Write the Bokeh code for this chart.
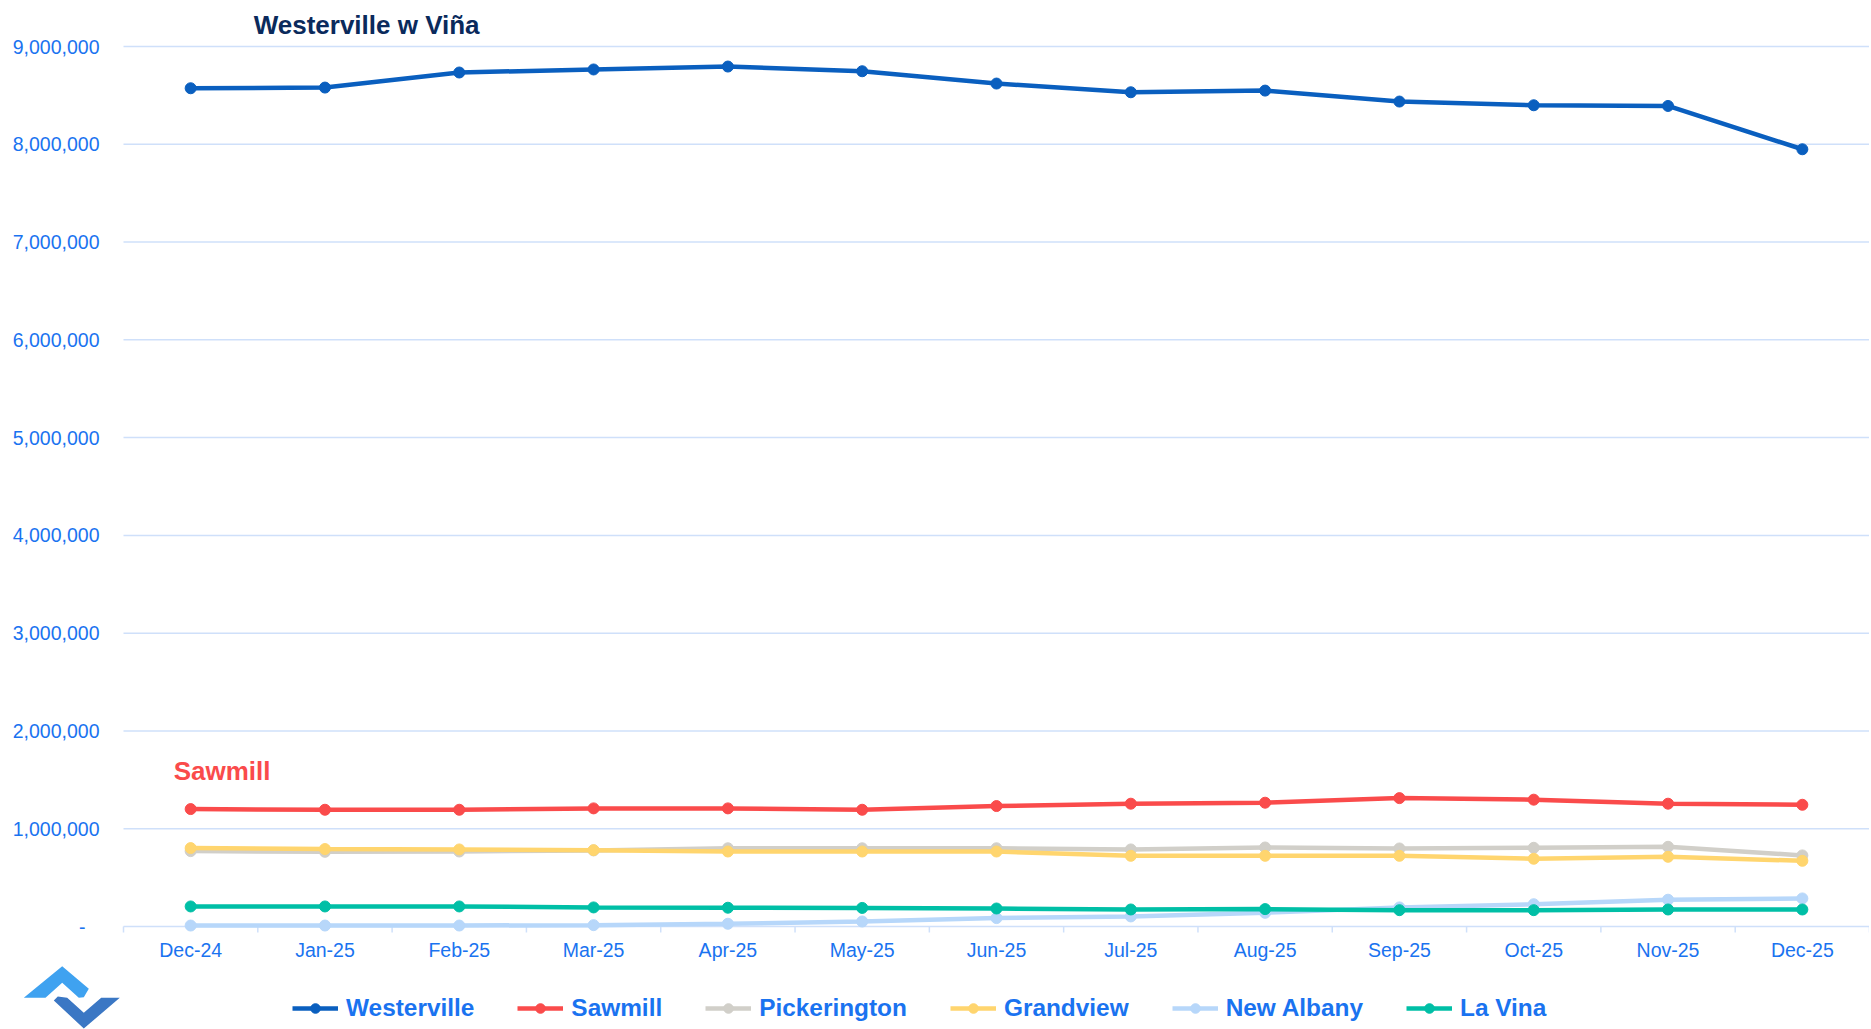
from bokeh.plotting import figure
from bokeh.models import (Range1d, Legend, LegendItem, Label, ColumnDataSource)
from bokeh.core.properties import value
from bokeh.embed import file_html
from bokeh.resources import INLINE

# ---- data ----
months = ["Dec-24", "Jan-25", "Feb-25", "Mar-25", "Apr-25", "May-25", "Jun-25",
          "Jul-25", "Aug-25", "Sep-25", "Oct-25", "Nov-25", "Dec-25"]
westerville = [8573000, 8580000, 8734000, 8765000, 8795000, 8747000, 8621000,
               8532000, 8549000, 8437000, 8399000, 8392000, 7949000]
sawmill = [1201000, 1194000, 1194000, 1208000, 1208000, 1194000, 1232000,
           1256000, 1266000, 1313000, 1297000, 1256000, 1245000]
pickerington = [771000, 764000, 767000, 778000, 800000, 800000, 800000,
                788000, 808000, 798000, 805000, 815000, 727000]
grandview = [802000, 792000, 788000, 781000, 767000, 767000, 767000,
             723000, 723000, 723000, 693000, 713000, 672000]
new_albany = [10000, 10000, 10000, 14000, 28000, 51000, 86000,
              103000, 140000, 195000, 228000, 274000, 287000]
la_vina = [205000, 205000, 205000, 195000, 192000, 190000, 184000,
           174000, 178000, 167000, 167000, 174000, 174000]
y_ticks = [0, 1000000, 2000000, 3000000, 4000000, 5000000, 6000000, 7000000, 8000000, 9000000]
y_tick_labels = ["-" if v == 0 else f"{v:,}" for v in y_ticks]

series = [
    ("Westerville", westerville, "#0a5fbf"),
    ("Sawmill", sawmill, "#fa4b4b"),
    ("Pickerington", pickerington, "#d1cfc9"),
    ("Grandview", grandview, "#ffd56e"),
    ("New Albany", new_albany, "#b7d7fa"),
    ("La Vina", la_vina, "#00bfa6"),
]

# logo outline (decorative, in canvas pixels)
logo_up_px = [23.3, 61.7, 88.3, 83.3, 78.3, 61.7, 45.0]
logo_up_py = [997.3, 965.7, 988.3, 996.7, 997.3, 982.3, 997.3]
logo_dn_px = [53.3, 83.3, 119.3, 100.7, 83.3, 66.7, 57.3]
logo_dn_py = [1000.0, 1028.0, 997.3, 997.3, 1012.3, 997.3, 996.0]

FONT = "Liberation Sans"
LABEL_BLUE = "#1a73f0"
GRID_BLUE = "#cfe0fa"

# ---- layout geometry (pixels) ----
W, H = 1869, 1029
PLOT_LEFT = 123      # left edge of plotting area
ZERO_PX = 926        # y pixel of value 0
TOP_GRID_PX = 46     # y pixel of top tick value
n = len(months)
step = (W - PLOT_LEFT) / n
ppu = (ZERO_PX - TOP_GRID_PX) / y_ticks[-1]
x_start = -0.5 - PLOT_LEFT / step
x_end = n - 0.5
y_end = y_ticks[-1] + TOP_GRID_PX / ppu
y_start = -(H - ZERO_PX) / ppu

def px2x(px):
    return x_start + px / step

def py2y(py):
    return y_end - py / ppu

x_idx = list(range(n))

p = figure(width=W, height=H, output_backend="svg", toolbar_location=None,
           x_range=Range1d(x_start, x_end), y_range=Range1d(y_start, y_end),
           min_border=0)
p.axis.visible = False
p.grid.grid_line_color = None
p.outline_line_color = None
p.background_fill_color = "white"
p.border_fill_color = "white"

# horizontal grid lines (zero line doubles as x axis line)
p.segment(x0=[-0.5] * len(y_ticks), x1=[x_end] * len(y_ticks), y0=y_ticks, y1=y_ticks,
          line_color=GRID_BLUE, line_width=1.5)
# x tick marks at category boundaries
bounds = [i - 0.5 for i in range(n + 1)]
p.segment(x0=bounds, x1=bounds, y0=[0] * len(bounds), y1=[-6 / ppu] * len(bounds),
          line_color=GRID_BLUE, line_width=1.5)

items = []
for name, vals, col in series:
    src = ColumnDataSource(dict(x=x_idx, y=vals, m=months))
    lr = p.line("x", "y", source=src, line_color=col, line_width=4.5)
    sr = p.scatter("x", "y", source=src, size=11, fill_color=col, line_color=col)
    items.append(LegendItem(label=name, renderers=[lr, sr]))

# x tick labels
p.text(x=x_idx, y=[-23 / ppu] * n, text=months, text_font=value(FONT),
       text_font_size="19.5px", text_color=LABEL_BLUE, text_align="center",
       text_baseline="middle")
# y tick labels
y_lab_x = [-0.5 - (38 if v == 0 else 24) / step for v in y_ticks]
p.text(x=y_lab_x, y=y_ticks, text=y_tick_labels, text_font=value(FONT),
       text_font_size="19.5px", text_color=LABEL_BLUE, text_align="right",
       text_baseline="middle")

# titles / annotations
p.add_layout(Label(x=0, y=py2y(24), x_offset=63, text="Westerville w Viña", text_font=FONT,
                   text_font_style="bold", text_font_size="26px", text_color="#0a2a5c",
                   text_baseline="middle", text_align="left"))
p.add_layout(Label(x=0, y=py2y(770), x_offset=-17, text="Sawmill", text_font=FONT,
                   text_font_style="bold", text_font_size="26px", text_color="#fa4b4b",
                   text_baseline="middle", text_align="left"))

legend = Legend(items=items, orientation="horizontal", location=(292, 7),
                glyph_width=46, glyph_height=24, label_standoff=8, spacing=43,
                padding=0, margin=0, label_text_font=FONT, label_text_font_style="bold",
                label_text_font_size="24.4px", label_text_color=LABEL_BLUE,
                border_line_color=None, background_fill_alpha=0)
p.add_layout(legend)

# logo
p.patch([px2x(v) for v in logo_up_px], [py2y(v) for v in logo_up_py],
        fill_color="#3fa2f0", line_color=None)
p.patch([px2x(v) for v in logo_dn_px], [py2y(v) for v in logo_dn_py],
        fill_color="#3b77c4", line_color=None)

open("out.html", "w").write(file_html(p, INLINE))
